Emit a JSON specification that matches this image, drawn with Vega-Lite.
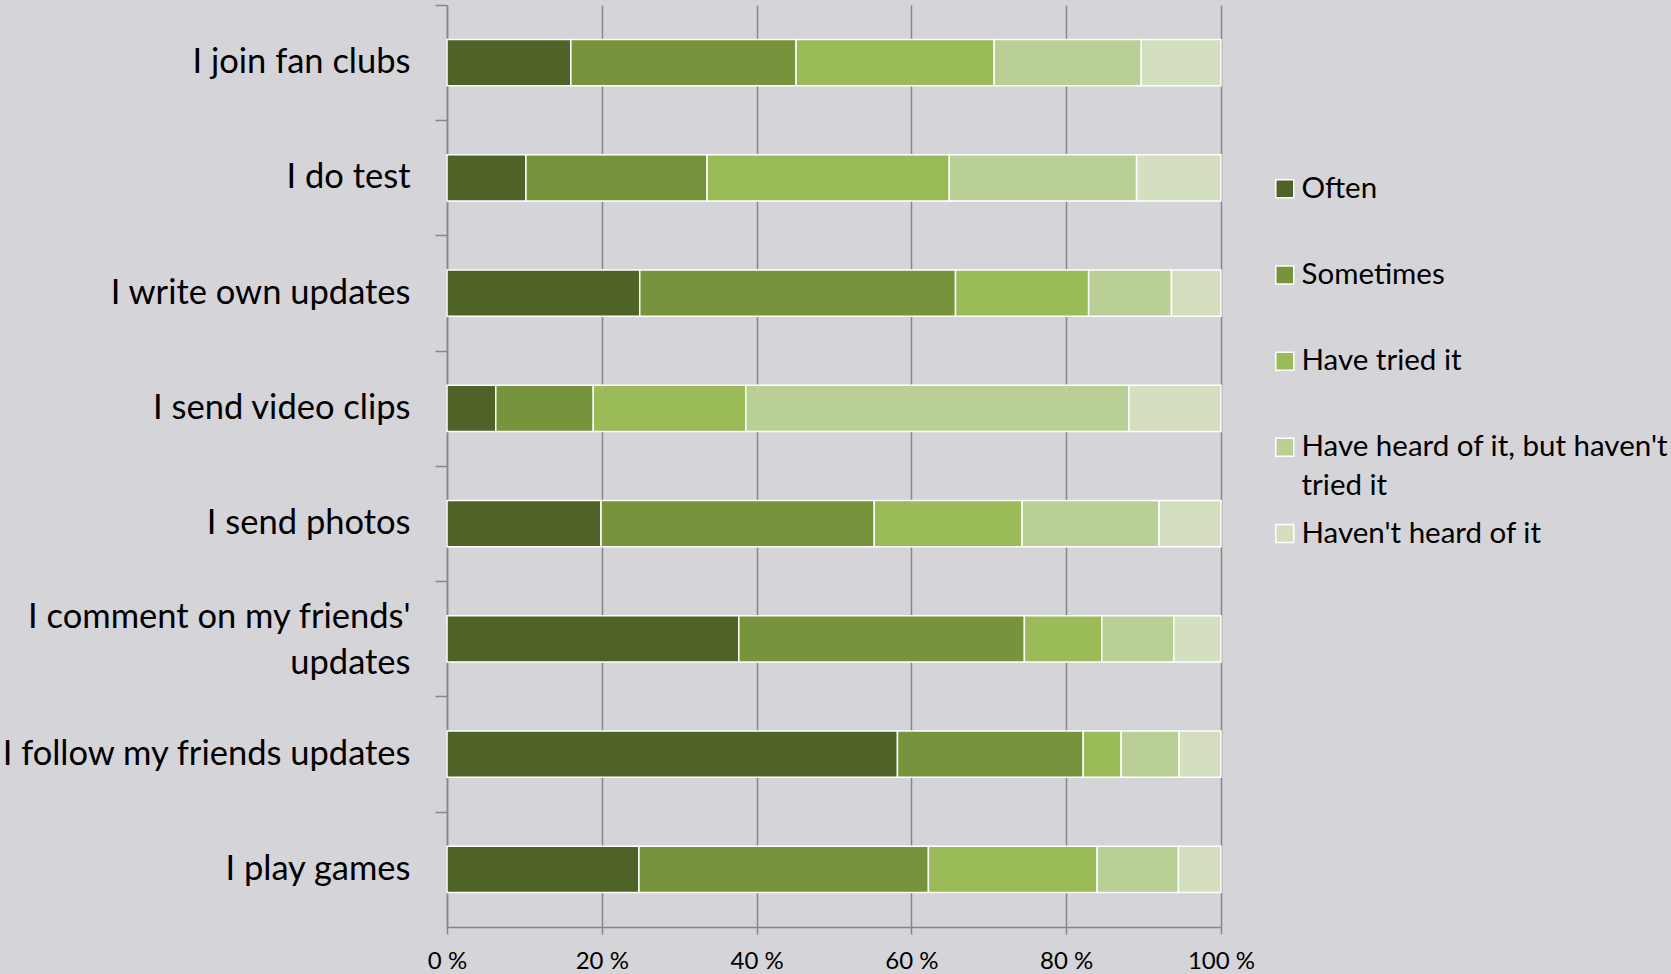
{
  "$schema": "https://vega.github.io/schema/vega-lite/v6.json",
  "autosize": {"type": "none"},
  "padding": {"left": 447, "top": 5, "right": 450, "bottom": 47},
  "width": 774,
  "height": 922,
  "background": "#d5d4d9",
  "config": {
    "view": {"stroke": null},
    "font": "Lato",
    "style": {"guide-label": {"lineHeight": 39}}
  },
  "data": {
    "values": [
      {"item": "I join fan clubs", "answer": "Often", "k": 1, "pct": 16.0},
      {"item": "I join fan clubs", "answer": "Sometimes", "k": 2, "pct": 29.1},
      {"item": "I join fan clubs", "answer": "Have tried it", "k": 3, "pct": 25.6},
      {"item": "I join fan clubs", "answer": "Have heard of it, but haven't tried it", "k": 4, "pct": 19.0},
      {"item": "I join fan clubs", "answer": "Haven't heard of it", "k": 5, "pct": 10.3},
      {"item": "I do test", "answer": "Often", "k": 1, "pct": 10.2},
      {"item": "I do test", "answer": "Sometimes", "k": 2, "pct": 23.4},
      {"item": "I do test", "answer": "Have tried it", "k": 3, "pct": 31.3},
      {"item": "I do test", "answer": "Have heard of it, but haven't tried it", "k": 4, "pct": 24.2},
      {"item": "I do test", "answer": "Haven't heard of it", "k": 5, "pct": 10.9},
      {"item": "I write own updates", "answer": "Often", "k": 1, "pct": 24.9},
      {"item": "I write own updates", "answer": "Sometimes", "k": 2, "pct": 40.8},
      {"item": "I write own updates", "answer": "Have tried it", "k": 3, "pct": 17.2},
      {"item": "I write own updates", "answer": "Have heard of it, but haven't tried it", "k": 4, "pct": 10.7},
      {"item": "I write own updates", "answer": "Haven't heard of it", "k": 5, "pct": 6.4},
      {"item": "I send video clips", "answer": "Often", "k": 1, "pct": 6.3},
      {"item": "I send video clips", "answer": "Sometimes", "k": 2, "pct": 12.6},
      {"item": "I send video clips", "answer": "Have tried it", "k": 3, "pct": 19.7},
      {"item": "I send video clips", "answer": "Have heard of it, but haven't tried it", "k": 4, "pct": 49.5},
      {"item": "I send video clips", "answer": "Haven't heard of it", "k": 5, "pct": 11.9},
      {"item": "I send photos", "answer": "Often", "k": 1, "pct": 19.9},
      {"item": "I send photos", "answer": "Sometimes", "k": 2, "pct": 35.3},
      {"item": "I send photos", "answer": "Have tried it", "k": 3, "pct": 19.1},
      {"item": "I send photos", "answer": "Have heard of it, but haven't tried it", "k": 4, "pct": 17.7},
      {"item": "I send photos", "answer": "Haven't heard of it", "k": 5, "pct": 8.0},
      {"item": "I comment on my friends' updates", "answer": "Often", "k": 1, "pct": 37.7},
      {"item": "I comment on my friends' updates", "answer": "Sometimes", "k": 2, "pct": 36.9},
      {"item": "I comment on my friends' updates", "answer": "Have tried it", "k": 3, "pct": 10.0},
      {"item": "I comment on my friends' updates", "answer": "Have heard of it, but haven't tried it", "k": 4, "pct": 9.3},
      {"item": "I comment on my friends' updates", "answer": "Haven't heard of it", "k": 5, "pct": 6.1},
      {"item": "I follow my friends updates", "answer": "Often", "k": 1, "pct": 58.2},
      {"item": "I follow my friends updates", "answer": "Sometimes", "k": 2, "pct": 24.0},
      {"item": "I follow my friends updates", "answer": "Have tried it", "k": 3, "pct": 4.9},
      {"item": "I follow my friends updates", "answer": "Have heard of it, but haven't tried it", "k": 4, "pct": 7.5},
      {"item": "I follow my friends updates", "answer": "Haven't heard of it", "k": 5, "pct": 5.4},
      {"item": "I play games", "answer": "Often", "k": 1, "pct": 24.8},
      {"item": "I play games", "answer": "Sometimes", "k": 2, "pct": 37.4},
      {"item": "I play games", "answer": "Have tried it", "k": 3, "pct": 21.8},
      {"item": "I play games", "answer": "Have heard of it, but haven't tried it", "k": 4, "pct": 10.5},
      {"item": "I play games", "answer": "Haven't heard of it", "k": 5, "pct": 5.5}
    ]
  },
  "mark": {"type": "bar", "stroke": "white", "strokeWidth": 1.5},
  "encoding": {
    "y": {
      "field": "item",
      "type": "nominal",
      "sort": null,
      "scale": {"paddingInner": 0.6, "paddingOuter": 0.3},
      "axis": {
        "title": null,
        "domainColor": "#868686",
        "domainWidth": 1.5,
        "tickColor": "#868686",
        "tickWidth": 1.5,
        "tickSize": 12,
        "bandPosition": 0,
        "tickOffset": -34.6,
        "labelOffset": {"condition": {"test": "indexof(datum.value, 'comment') >= 0", "value": 13.6}, "value": 34.6},
        "labelPadding": 25,
        "labelFontSize": 34.5,
        "labelColor": "#000000",
        "labelFont": "Lato",
        "labelLimit": 500,
        "labelLineHeight": 46,
        "labelExpr": "datum.label == \"I comment on my friends' updates\" ? [\"I comment on my friends'\", \"updates\"] : datum.label"
      }
    },
    "x": {
      "field": "pct",
      "type": "quantitative",
      "stack": "normalize",
      "scale": {"domain": [0, 1], "nice": false},
      "axis": {
        "title": null,
        "values": [0, 0.2, 0.4, 0.6, 0.8, 1],
        "labelExpr": "round(datum.value * 100) + ' %'",
        "labelFlush": false,
        "grid": true,
        "gridColor": "#868686",
        "gridWidth": 1.5,
        "domainColor": "#868686",
        "domainWidth": 1.5,
        "tickColor": "#868686",
        "tickWidth": 1.5,
        "tickSize": 7,
        "labelPadding": 15,
        "labelFontSize": 24,
        "labelColor": "#000000",
        "labelFont": "Lato"
      }
    },
    "color": {
      "field": "answer",
      "type": "nominal",
      "scale": {
        "domain": ["Often", "Sometimes", "Have tried it", "Have heard of it, but haven't tried it", "Haven't heard of it"],
        "range": ["#4f6228", "#77933c", "#9bbb59", "#bacf96", "#d3dfbf"]
      },
      "legend": {
        "title": null,
        "orient": "none",
        "legendX": 823,
        "legendY": 169,
        "padding": 0,
        "gridAlign": "all",
        "symbolType": "square",
        "symbolSize": 324,
        "symbolStrokeColor": "white",
        "symbolStrokeWidth": 1.5,
        "labelFontSize": 29.5,
        "labelFont": "Lato",
        "labelColor": "#000000",
        "labelOffset": 2,
        "labelLimit": 420,
        "rowPadding": 16.2,
        "labelExpr": "datum.label == \"Have heard of it, but haven't tried it\" ? [\"Have heard of it, but haven't\", \"tried it\"] : datum.label"
      }
    },
    "order": {"field": "k", "type": "quantitative"}
  }
}
